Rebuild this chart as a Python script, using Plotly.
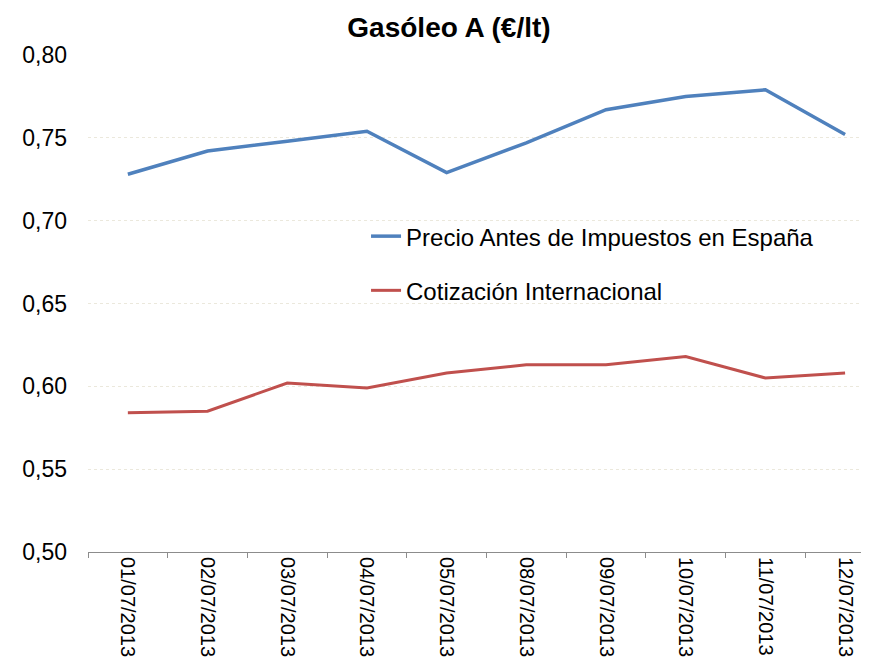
import plotly.graph_objects as go

# dates on the x axis
fechas = ['01/07/2013', '02/07/2013', '03/07/2013', '04/07/2013', '05/07/2013',
          '08/07/2013', '09/07/2013', '10/07/2013', '11/07/2013', '12/07/2013']

# euros per litre
precio_espana = [0.728, 0.742, 0.748, 0.754, 0.729, 0.747, 0.767, 0.775, 0.779, 0.752]
cotizacion_int = [0.584, 0.585, 0.602, 0.599, 0.608, 0.613, 0.613, 0.618, 0.605, 0.608]

y_ticks = [0.50, 0.55, 0.60, 0.65, 0.70, 0.75, 0.80]

traces = [
    go.Scatter(x=fechas, y=precio_espana, mode='lines',
               name='Precio Antes de Impuestos en España',
               legendgroup='a',
               line=dict(color='#4F81BD', width=3.5)),
    go.Scatter(x=fechas, y=cotizacion_int, mode='lines',
               name='Cotización Internacional',
               legendgroup='b',
               line=dict(color='#C0504D', width=3)),
]

# page body has an 8px margin, so the margins are shifted to compensate
layout = go.Layout(
    width=869, height=657,
    margin=dict(l=80, r=8, t=47, b=113),
    paper_bgcolor='white', plot_bgcolor='white',
    separators=',.',
    title=dict(text='<b>Gasóleo A (€/lt)</b>', x=441 / 869, xanchor='center',
               y=1 - 19 / 657, yanchor='middle',
               font=dict(family='Liberation Sans, Arial', size=28, color='black')),
    font=dict(family='Liberation Sans, Arial', color='black'),
    xaxis=dict(type='category', range=[-0.5, 9.3],
               tickangle=90, tickson='boundaries',
               ticks='outside', ticklen=5, tickcolor='#8c8c8c',
               showline=True, linecolor='#8c8c8c', linewidth=1,
               showgrid=False, automargin=False,
               tickfont=dict(family='Liberation Sans, Arial', size=20)),
    yaxis=dict(range=[0.50, 0.80], tickvals=y_ticks, tickformat='.2f',
               showline=False, showgrid=True, gridcolor='#ebe8dc',
               griddash='dot', zeroline=False, automargin=False,
               ticks='', ticklabelstandoff=20,
               tickfont=dict(family='Liberation Sans, Arial', size=23)),
    legend=dict(x=0.356, y=0.680, xanchor='left', yanchor='top',
                bgcolor='rgba(0,0,0,0)', tracegroupgap=20,
                itemwidth=30,
                font=dict(family='Liberation Sans, Arial', size=24)),
)

fig = go.Figure(data=traces, layout=layout)
fig.write_html('out.html')
